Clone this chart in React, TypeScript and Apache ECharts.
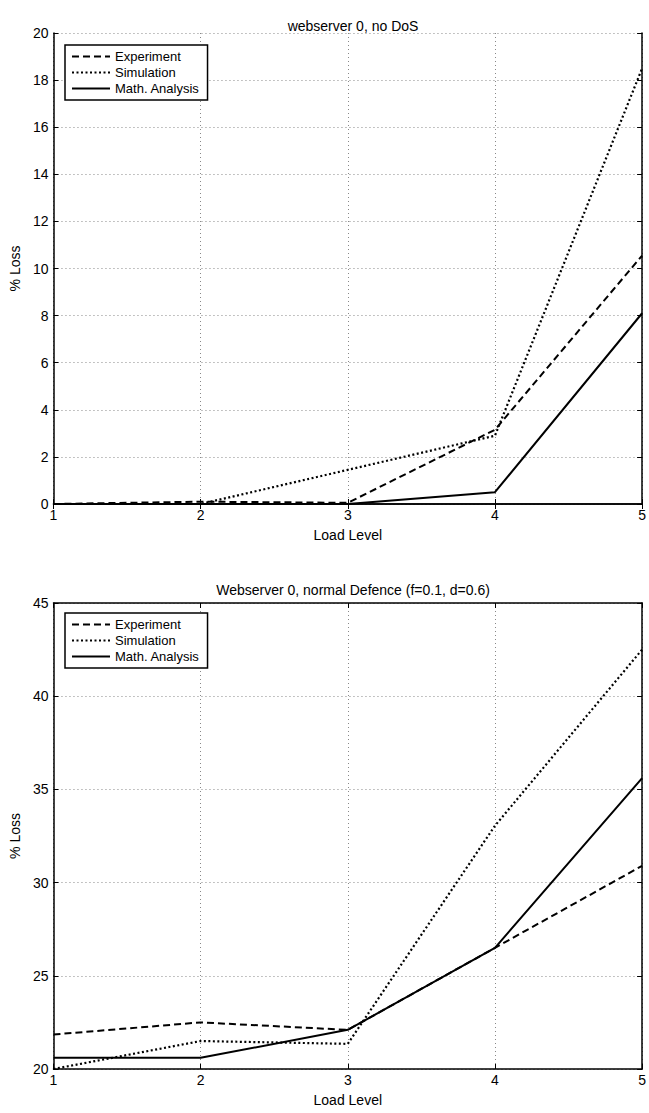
import React, { useEffect, useRef } from "react";
import * as echarts from "echarts";

const loadLevels = ["1", "2", "3", "4", "5"];
const topTitle = "webserver 0, no DoS";
const bottomTitle = "Webserver 0, normal Defence (f=0.1, d=0.6)";
const seriesNames = ["Experiment", "Simulation", "Math. Analysis"];

const topExperiment = [0, 0.1, 0.05, 3.15, 10.55];
const topSimulation = [0, 0, 1.45, 2.9, 18.5];
const topMath = [0, 0, 0, 0.5, 8.1];

const bottomExperiment = [21.85, 22.5, 22.1, 26.5, 30.9];
const bottomSimulation = [20.0, 21.5, 21.35, 33.05, 42.5];
const bottomMath = [20.6, 20.6, 22.1, 26.5, 35.6];

const FONT = "Liberation Sans";

export default function App() {
  const ref = useRef<HTMLDivElement>(null);
  useEffect(() => {
    if (!ref.current) return;
    const chart = echarts.init(ref.current, null, { renderer: "svg" });
    const styles: any[] = [
      { type: [7, 4], width: 2 },
      { type: [2, 2.5], width: 2.2 },
      { type: "solid", width: 2 },
    ];
    const grids = [
      { left: 52, right: 4, top: 33, height: 471 },
      { left: 52, right: 4, top: 603, height: 466 },
    ];
    const yCfg = [
      { min: 0, max: 20, interval: 2 },
      { min: 20, max: 45, interval: 5 },
    ];
    const axisLine = { show: true, lineStyle: { color: "#000", width: 1.5 } };
    const tick = { show: true, inside: true, length: 5, lineStyle: { color: "#000" } };
    const grid = { show: true, lineStyle: { color: "#888", type: [1, 3], width: 1 } };
    const xAxes: any[] = [];
    const yAxes: any[] = [];
    grids.forEach((g, i) => {
      xAxes.push({
        type: "value",
        gridIndex: i,
        min: 1,
        max: 5,
        interval: 1,
        name: "Load Level",
        nameLocation: "middle",
        nameGap: 24,
        nameTextStyle: { color: "#000", fontSize: 14, fontFamily: FONT },
        axisLine,
        axisTick: tick,
        axisLabel: { color: "#000", fontSize: 14, fontFamily: FONT, margin: 4 },
        splitLine: grid,
      });
      xAxes.push({
        type: "value",
        gridIndex: i,
        position: "top",
        min: 1,
        max: 5,
        interval: 1,
        axisLine,
        axisTick: tick,
        axisLabel: { show: false },
        splitLine: { show: false },
      });
      yAxes.push({
        type: "value",
        gridIndex: i,
        ...yCfg[i],
        name: "% Loss",
        nameLocation: "middle",
        nameGap: 30,
        nameTextStyle: { color: "#000", fontSize: 14, fontFamily: FONT },
        axisLine,
        axisTick: tick,
        axisLabel: { color: "#000", fontSize: 14, fontFamily: FONT, margin: 5 },
        splitLine: grid,
      });
      yAxes.push({
        type: "value",
        gridIndex: i,
        position: "right",
        ...yCfg[i],
        axisLine,
        axisTick: tick,
        axisLabel: { show: false },
        splitLine: { show: false },
      });
    });
    const datasets = [
      [topExperiment, topSimulation, topMath],
      [bottomExperiment, bottomSimulation, bottomMath],
    ];
    const series: any[] = [];
    datasets.forEach((set, gi) => {
      set.forEach((vals, si) => {
        series.push({
          type: "line",
          name: seriesNames[si],
          xAxisIndex: gi * 2,
          yAxisIndex: gi * 2,
          data: vals.map((v, k) => [Number(loadLevels[k]), v]),
          showSymbol: false,
          symbol: "none",
          lineStyle: { color: "#000", ...styles[si] },
          itemStyle: { color: "#000" },
        });
      });
    });
    const legendBase = {
      orient: "vertical",
      left: 65,
      itemWidth: 38,
      itemHeight: 10,
      itemGap: 3,
      padding: [5, 8, 5, 6],
      borderColor: "#000",
      borderWidth: 1.5,
      backgroundColor: "#fff",
      data: seriesNames,
      itemStyle: { opacity: 0 },
      textStyle: { color: "#000", fontSize: 13, fontFamily: FONT },
      selectedMode: false,
    };
    chart.setOption({
      animation: false,
      backgroundColor: "#fff",
      title: [
        {
          text: topTitle,
          left: 348,
          top: 14,
          textAlign: "center",
          textStyle: { color: "#000", fontSize: 14, fontWeight: "normal", fontFamily: FONT },
        },
        {
          text: bottomTitle,
          left: 348,
          top: 578,
          textAlign: "center",
          textStyle: { color: "#000", fontSize: 14, fontWeight: "normal", fontFamily: FONT },
        },
      ],
      legend: [
        { ...legendBase, top: 45 },
        { ...legendBase, top: 613 },
      ],
      grid: grids,
      xAxis: xAxes,
      yAxis: yAxes,
      series,
    });
    return () => chart.dispose();
  }, []);
  return (
    <div
      ref={ref}
      style={{ position: "absolute", left: 0, top: 0, width: 649, height: 1113 }}
    />
  );
}
